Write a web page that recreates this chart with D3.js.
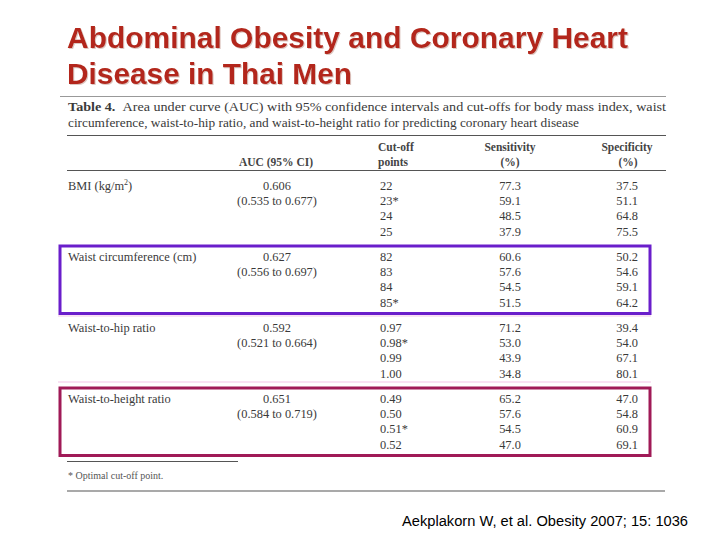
<!DOCTYPE html>
<html><head><meta charset="utf-8">
<script src="https://cdn.jsdelivr.net/npm/d3@7"></script>
<style>body{margin:0;background:#fff}svg{display:block}</style>
</head><body>
<script>
const titleLines = ["Abdominal Obesity and Coronary Heart", "Disease in Thai Men"];
const captionLines = ["Area under curve (AUC) with 95% confidence intervals and cut-offs for body mass index, waist", "circumference, waist-to-hip ratio, and waist-to-height ratio for predicting coronary heart disease"];
const groups = ["BMI (kg/m²)", "Waist circumference (cm)", "Waist-to-hip ratio", "Waist-to-height ratio"];
const auc = ["0.606", "0.627", "0.592", "0.651"];
const ci = ["(0.535 to 0.677)", "(0.556 to 0.697)", "(0.521 to 0.664)", "(0.584 to 0.719)"];
const cutoffs = [["22","23*","24","25"],["82","83","84","85*"],["0.97","0.98*","0.99","1.00"],["0.49","0.50","0.51*","0.52"]];
const sensitivity = [[77.3,59.1,48.5,37.9],[60.6,57.6,54.5,51.5],[71.2,53.0,43.9,34.8],[65.2,57.6,54.5,47.0]];
const specificity = [[37.5,51.1,64.8,75.5],[50.2,54.6,59.1,64.2],[39.4,54.0,67.1,80.1],[47.0,54.8,60.9,69.1]];
const highlighted = [1, 3];
const boxColors = {1: "#6a1ecb", 3: "#a01a57"};
const footnote = "* Optimal cut-off point.";
const citation = "Aekplakorn W, et al. Obesity 2007; 15: 1036";

const W = 720, H = 540;
const svg = d3.select("body").append("svg").attr("width", W).attr("height", H);

const defs = svg.append("defs");
defs.append("filter").attr("id", "shadow").attr("x", "-5%").attr("y", "-20%").attr("width", "110%").attr("height", "140%")
  .append("feDropShadow").attr("dx", 1).attr("dy", 1).attr("stdDeviation", 0.6)
  .attr("flood-color", "#c9a39a").attr("flood-opacity", 0.6);

// title
const titleWidths = [561, 285];
titleLines.forEach((t, i) => {
  svg.append("text").attr("x", 67).attr("y", 48 + i * 36)
    .attr("font-family", "Liberation Sans, Arial, sans-serif").attr("font-weight", "bold")
    .attr("font-size", 29.5).attr("fill", "#b3281a").attr("filter", "url(#shadow)")
    .attr("textLength", titleWidths[i]).attr("lengthAdjust", "spacingAndGlyphs").text(t);
});
svg.append("line").attr("x1", 60).attr("x2", 666).attr("y1", 96.5).attr("y2", 96.5)
  .attr("stroke", "#999").attr("stroke-width", 1);

const serif = "Liberation Serif, Times New Roman, serif";
const ink = "#3a3a3a";
// caption
const cap1 = svg.append("text").attr("x", 68).attr("y", 111).attr("font-family", serif)
  .attr("font-size", 12.6).attr("fill", ink).attr("textLength", 598).attr("lengthAdjust", "spacingAndGlyphs");
cap1.append("tspan").attr("font-weight", "bold").text("Table 4.");
cap1.append("tspan").text("\u2002" + captionLines[0]);
svg.append("text").attr("x", 68).attr("y", 127).attr("font-family", serif)
  .attr("font-size", 12.6).attr("fill", ink).attr("textLength", 511).attr("lengthAdjust", "spacingAndGlyphs")
  .text(captionLines[1]);

const rule = (x1, x2, y, c = "#555", w = 1.2) => svg.append("line").attr("x1", x1).attr("x2", x2)
  .attr("y1", y).attr("y2", y).attr("stroke", c).attr("stroke-width", w);
rule(67, 666, 135.5);
rule(67, 666, 170.5);

// header
const hdr = (x, y, t, anchor) => svg.append("text").attr("x", x).attr("y", y).attr("font-family", serif)
  .attr("font-size", 11.5).attr("font-weight", "bold").attr("fill", "#444").attr("text-anchor", anchor).text(t);
hdr(378, 151, "Cut-off", "start");
hdr(378, 166, "points", "start");
hdr(276, 166, "AUC (95% CI)", "middle");
hdr(510, 151, "Sensitivity", "middle");
hdr(510, 166, "(%)", "middle");
hdr(627, 151, "Specificity", "middle");
hdr(628, 166, "(%)", "middle");

// rows
const gy = d3.scaleLinear().domain([0, 3]).range([189.5, 402.5]);
const ry = d3.scaleLinear().domain([0, 3]).range([0, 46]);
const cols = { label: 68, auc: 277, cut: 380, sens: 510, spec: 638 };

// faint separators around the waist-to-hip block
rule(58, 651, 316, "#f3c6e8", 1.2);
rule(58, 651, 382, "#f3c6e8", 1.2);

const g = svg.selectAll("g.grp").data(groups).join("g").attr("class", "grp");
g.each(function (name, gi) {
  const s = d3.select(this);
  const y0 = gy(gi);
  const txt = (x, y, t, anchor) => s.append("text").attr("x", x).attr("y", y).attr("font-family", serif)
    .attr("font-size", 12.4).attr("fill", ink).attr("text-anchor", anchor).text(t);
  if (gi === 0) {
    const t = txt(cols.label, y0, "BMI (kg/m", "start");
    t.append("tspan").attr("font-size", 8).attr("dy", -5).text("2");
    t.append("tspan").attr("dy", 5).text(")");
  } else {
    txt(cols.label, y0, name, "start");
  }
  txt(cols.auc, y0, auc[gi], "middle");
  txt(cols.auc, y0 + ry(1), ci[gi], "middle");
  cutoffs[gi].forEach((c, ri) => {
    const y = y0 + ry(ri);
    txt(cols.cut, y, c, "start");
    txt(cols.sens, y, d3.format(".1f")(sensitivity[gi][ri]), "middle");
    txt(cols.spec, y, d3.format(".1f")(specificity[gi][ri]), "end");
  });
});

// highlight boxes
highlighted.forEach(gi => {
  const top = gy(gi) - 14.5, bottom = gy(gi) + ry(3) + 7;
  svg.append("rect").attr("x", 60).attr("y", top).attr("width", 590).attr("height", bottom - top)
    .attr("fill", "none").attr("stroke", boxColors[gi]).attr("stroke-width", 3);
});

// footnote
rule(67, 238, 461.5, "#555", 1);
svg.append("text").attr("x", 68).attr("y", 479).attr("font-family", serif).attr("font-size", 10)
  .attr("fill", "#555").text(footnote);
rule(67, 665, 491, "#555", 1.2);

svg.append("text").attr("x", 688).attr("y", 526).attr("text-anchor", "end")
  .attr("font-family", "Liberation Sans, Arial, sans-serif").attr("font-size", 14)
  .attr("fill", "#000").attr("textLength", 286).attr("lengthAdjust", "spacingAndGlyphs").text(citation);
</script>
</body></html>
